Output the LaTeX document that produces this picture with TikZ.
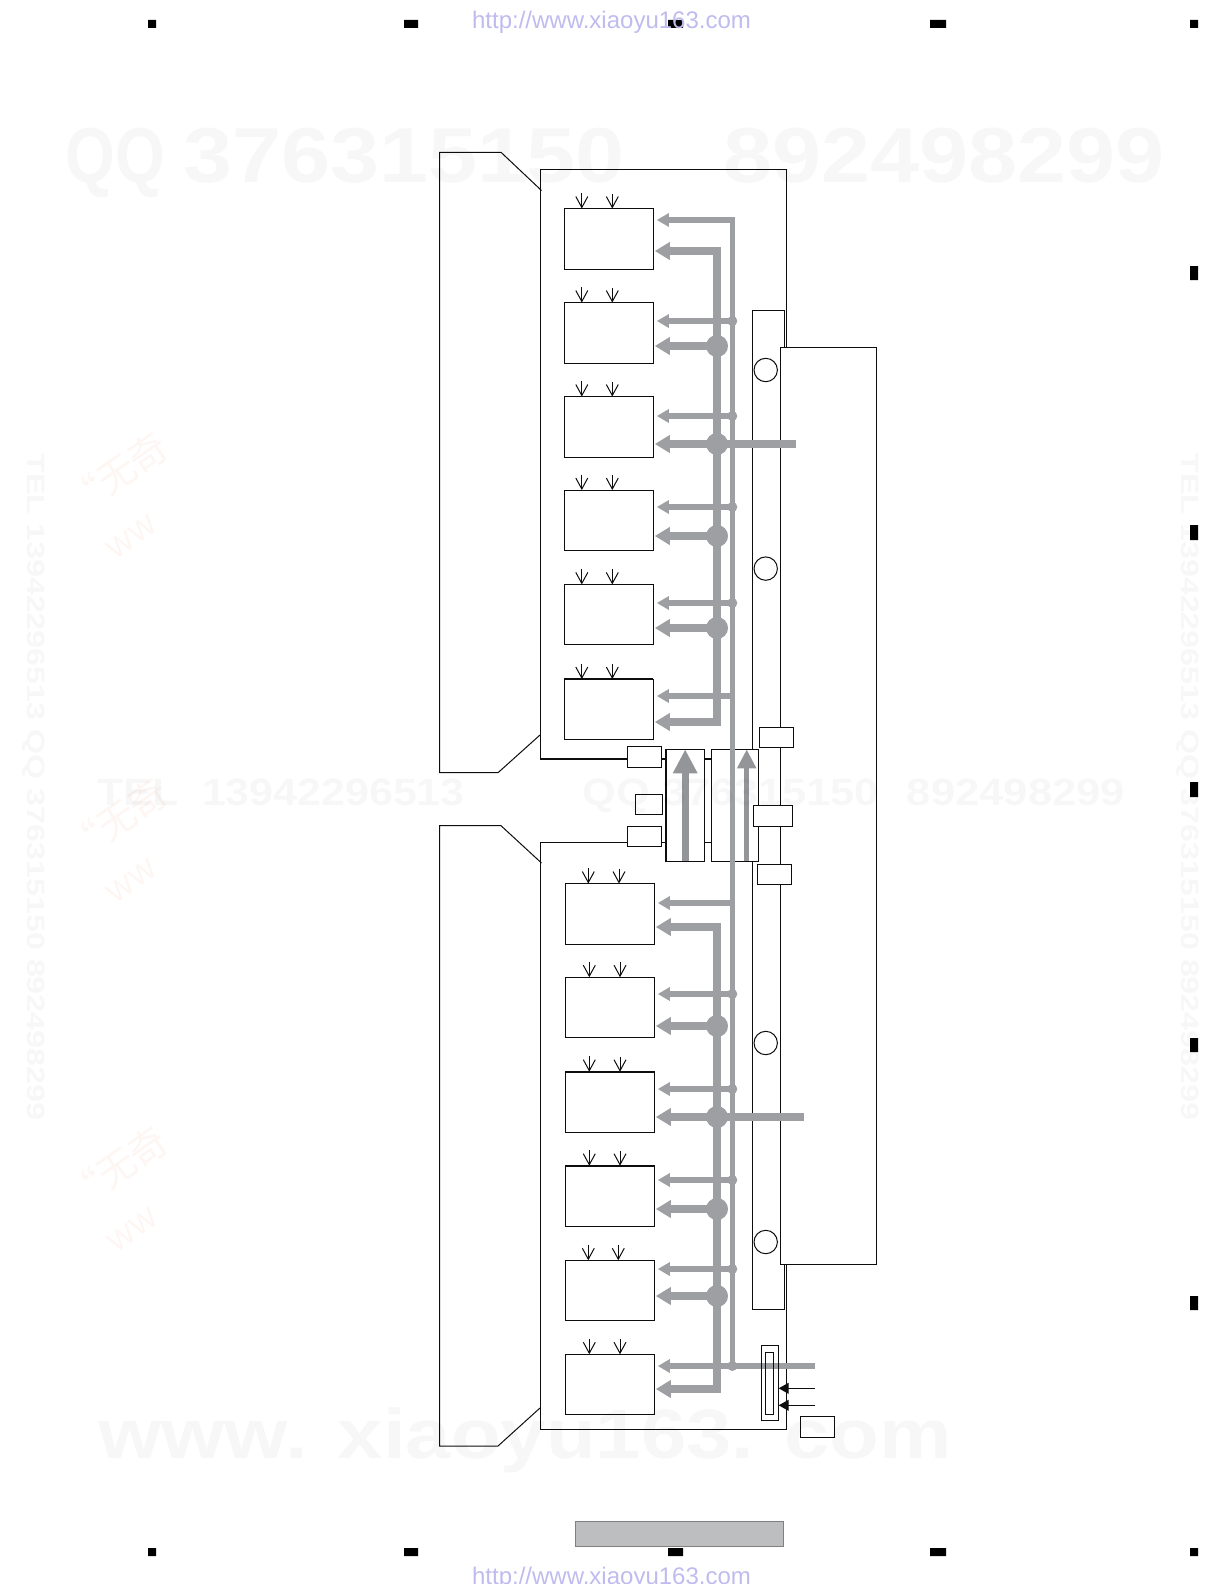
\documentclass[tikz,border=0pt]{standalone}
\usepackage{fontspec}
\setmainfont{Liberation Sans}
\newfontfamily\cjk{Noto Sans CJK SC}
\usetikzlibrary{arrows.meta}
\definecolor{busgray}{HTML}{9D9FA2}
\definecolor{headgray}{HTML}{939598}
\definecolor{barfill}{HTML}{BCBEC0}
\definecolor{stampred}{HTML}{D75F2D}
\definecolor{urlblue}{HTML}{BFBBEE}
\tikzset{
	boardline/.style={black!95, line width=1pt},
	heavyline/.style={black!95, line width=1.8pt},
	plainbox/.style={draw=black!95, fill=white, line width=1pt, rectangle, inner sep=0pt, outer sep=0pt},
	blockbox/.style={plainbox, minimum width=89pt, minimum height=60.5pt},
	tagbox/.style={plainbox, minimum width=34.4pt, minimum height=20.6pt},
	portcircle/.style={draw=black!95, fill=white, line width=1pt, circle, inner sep=0pt, minimum size=23.4pt},
	sigarrow/.style={black!95, line width=1pt, -{Straight Barb[length=11pt,width=12pt]}},
	thinbus/.style={busgray, line width=5.5pt, shorten >=3.5pt, -{Triangle[length=12pt,width=13pt]}},
	thickbus/.style={busgray, line width=7.5pt, shorten >=1.5pt, -{Triangle[length=15pt,width=17pt]}},
	thinplain/.style={busgray, line width=5.5pt},
	thickplain/.style={busgray, line width=7.5pt},
	inarrow/.style={black!95, line width=1pt, -{Triangle[length=10pt,width=11pt]}},
	wmtext/.style={black, opacity=0.03, inner sep=0pt, anchor=base},
	stamptext/.style={stampred, opacity=0.06, rotate=35, inner sep=0pt},
	urltext/.style={urlblue, font=\fontsize{24}{24}\selectfont, inner sep=0pt, anchor=base},
}
\newcommand{\sigpair}[3]{
	\draw [sigarrow] ([xshift=#2pt,yshift=15.5pt]#1.north) -- ([xshift=#2pt]#1.north);
	\draw [sigarrow] ([xshift=#3pt,yshift=15pt]#1.north) -- ([xshift=#3pt]#1.north);
}
\begin{document}
\begin{tikzpicture}[x=1pt,y=-1pt]
	\useasboundingbox (0,0) rectangle (1224,1584);
	%
	% page marks and links
	\fill [black]
	(148,20) rectangle (156,28) (404,20) rectangle (418,28) (668,20) rectangle (683,28) (930,20) rectangle (946,28) (1190,20) rectangle (1198,28)
	(148,1548) rectangle (156,1556) (404,1548) rectangle (418,1556) (668,1548) rectangle (683,1556) (930,1548) rectangle (946,1556) (1190,1548) rectangle (1198,1556)
	(1190,266) rectangle (1198,280) (1190,525) rectangle (1198,540) (1190,782) rectangle (1198,797) (1190,1038) rectangle (1198,1052) (1190,1296) rectangle (1198,1310);
	\node [urltext] (urltop) at (611.5,29) {http://www.xiaoyu163.com};
	\node [urltext] (urlbottom) at (611.5,1584.5) {http://www.xiaoyu163.com};
	\node [draw=black!50, fill=barfill, line width=1pt, inner sep=0pt, minimum width=208pt, minimum height=24.7pt] (titlebar) at (679,1534.3) {};
	%
	% the two boards and their brackets
	\draw [boardline] (786.3,347) -- (786.3,169.3) -- (540.3,169.3) -- (540.3,758.7);
	\draw [heavyline] (540.3,758.7) -- (711.3,758.7);
	\draw [boardline] (711.3,842.3) -- (540.3,842.3) -- (540.3,1429.3) -- (786.7,1429.3) -- (786.7,1264);
	\draw [boardline] (541.5,190.5) -- (501,152.3) -- (439.7,152.3) -- (439.7,772.7) -- (498,772.7) -- (540,735);
	\draw [boardline] (541.5,863) -- (501,825.7) -- (439.7,825.7) -- (439.7,1446) -- (498,1446) -- (540,1408);
	%
	\node [plainbox, minimum width=32pt, minimum height=999.3pt] (longpanel) at (768.3,809.7) {};
	\node [portcircle] (porta) at (765.7,370) {};
	\node [portcircle] (portb) at (765.7,568.6) {};
	\node [portcircle] (portc) at (765.7,1043) {};
	\node [portcircle] (portd) at (765.7,1242) {};
	\node [plainbox, minimum width=96.2pt, minimum height=917.3pt] (bigpanel) at (828.4,805.7) {};
	%
	\node [plainbox, minimum width=39pt, minimum height=112pt] (boxa) at (685.2,805.3) {};
	\draw [heavyline] (boxa.north west) -- (boxa.south west);
	\node [plainbox, minimum width=47.4pt, minimum height=112pt] (boxb) at (735,805.3) {};
	%
	% upper blocks
	\node [blockbox] (ublocka) at (608.8,238.8) {};
	\node [blockbox] (ublockb) at (608.8,332.8) {};
	\node [blockbox] (ublockc) at (608.8,426.8) {};
	\node [blockbox] (ublockd) at (608.8,520.3) {};
	\node [blockbox] (ublocke) at (608.8,614.7) {};
	\node [blockbox] (ublockf) at (608.8,709.3) {};
	\draw [heavyline] (ublockf.north west) -- (ublockf.north east);
	\sigpair{ublocka}{-27}{3.5} \sigpair{ublockb}{-27}{3.5} \sigpair{ublockc}{-27}{3.5}
	\sigpair{ublockd}{-27}{3.5} \sigpair{ublocke}{-27}{3.5} \sigpair{ublockf}{-27}{3.5}
	%
	% lower blocks
	\node [blockbox] (lblocka) at (609.8,913.8) {};
	\node [blockbox] (lblockb) at (609.8,1007.5) {};
	\node [blockbox] (lblockc) at (609.8,1102) {};
	\node [blockbox] (lblockd) at (609.8,1196) {};
	\node [blockbox] (lblocke) at (609.8,1290.5) {};
	\node [blockbox] (lblockf) at (609.8,1384.5) {};
	\draw [heavyline] (lblockc.north west) -- (lblockc.north east);
	\draw [heavyline] (lblockd.north west) -- (lblockd.north east);
	\sigpair{lblocka}{-21.5}{9.2} \sigpair{lblockb}{-20.5}{10.2} \sigpair{lblockc}{-20.5}{10.2}
	\sigpair{lblockd}{-20.5}{10.2} \sigpair{lblocke}{-21.5}{8.5} \sigpair{lblockf}{-20.5}{10.2}
	%
	% junctions on the two buses
	\coordinate (usa) at (732.3,220);  \coordinate (uta) at (717,251);
	\coordinate (usb) at (732.3,321);  \coordinate (utb) at (717,346);
	\coordinate (usc) at (732.3,416);  \coordinate (utc) at (717,444);
	\coordinate (usd) at (732.3,507);  \coordinate (utd) at (717,536);
	\coordinate (use) at (732.3,603);  \coordinate (ute) at (717,628);
	\coordinate (usf) at (732.3,696);  \coordinate (utf) at (717,722);
	\coordinate (lsa) at (732.3,903);  \coordinate (lta) at (717,927);
	\coordinate (lsb) at (732.3,994);  \coordinate (ltb) at (717,1026);
	\coordinate (lsc) at (732.3,1089); \coordinate (ltc) at (717,1117);
	\coordinate (lsd) at (732.3,1180); \coordinate (ltd) at (717,1209);
	\coordinate (lse) at (732.3,1269); \coordinate (lte) at (717,1296);
	\coordinate (lsf) at (732.3,1366); \coordinate (ltf) at (717,1389);
	\coordinate (uout) at (796,444);
	\coordinate (lout) at (804,1117);
	\coordinate (sout) at (815,1366);
	%
	\draw [thinplain] (usb) -- (lsf);
	\draw [thickplain] (utb) -- (ute);
	\draw [thickplain] (ltb) -- (lte);
	\draw [thickplain] (utc) -- (uout);
	\draw [thickplain] (ltc) -- (lout);
	\draw [thinplain] (lsf) -- (sout);
	%
	\draw [thinbus] (usb) -- (usa) -- (ublocka.east |- usa);
	\draw [thinbus] (usb) -- (ublockb.east |- usb);
	\draw [thinbus] (usc) -- (ublockc.east |- usc);
	\draw [thinbus] (usd) -- (ublockd.east |- usd);
	\draw [thinbus] (use) -- (ublocke.east |- use);
	\draw [thinbus] (usf) -- (ublockf.east |- usf);
	\draw [thickbus] (utb) -- (uta) -- (ublocka.east |- uta);
	\draw [thickbus] (utb) -- (ublockb.east |- utb);
	\draw [thickbus] (utc) -- (ublockc.east |- utc);
	\draw [thickbus] (utd) -- (ublockd.east |- utd);
	\draw [thickbus] (ute) -- (ublocke.east |- ute);
	\draw [thickbus] (ute) -- (utf) -- (ublockf.east |- utf);
	%
	\draw [thinbus] (lsa) -- (lblocka.east |- lsa);
	\draw [thinbus] (lsb) -- (lblockb.east |- lsb);
	\draw [thinbus] (lsc) -- (lblockc.east |- lsc);
	\draw [thinbus] (lsd) -- (lblockd.east |- lsd);
	\draw [thinbus] (lse) -- (lblocke.east |- lse);
	\draw [thinbus] (lsf) -- (lblockf.east |- lsf);
	\draw [thickbus] (ltb) -- (lta) -- (lblocka.east |- lta);
	\draw [thickbus] (ltb) -- (lblockb.east |- ltb);
	\draw [thickbus] (ltc) -- (lblockc.east |- ltc);
	\draw [thickbus] (ltd) -- (lblockd.east |- ltd);
	\draw [thickbus] (lte) -- (lblocke.east |- lte);
	\draw [thickbus] (lte) -- (ltf) -- (lblockf.east |- ltf);
	%
	\fill [busgray]
	(utb) circle (11) (utc) circle (11) (utd) circle (11) (ute) circle (11)
	(ltb) circle (11) (ltc) circle (11) (ltd) circle (11) (lte) circle (11)
	(usb) circle (5) (usc) circle (5) (usd) circle (5) (use) circle (5)
	(lsb) circle (5) (lsc) circle (5) (lsd) circle (5) (lse) circle (5) (lsf) circle (5);
	%
	% the two upward arrows in the middle boxes
	\draw [headgray, line width=7pt, -{Triangle[length=24pt,width=23pt]}] (boxa.south) -- (boxa.north);
	\draw [headgray, line width=5pt, -{Triangle[length=19pt,width=18pt]}] ([xshift=11.7pt]boxb.south) -- ([xshift=11.7pt]boxb.north);
	%
	% small boxes
	\node [tagbox] (tagupper) at (644.5,757) {};
	\node [plainbox, minimum width=27.4pt, minimum height=20.4pt] (tagmid) at (649,804.5) {};
	\node [tagbox] (taglower) at (644.5,836.3) {};
	\node [tagbox] (tagrighta) at (776.5,737.5) {};
	\node [plainbox, minimum width=39pt, minimum height=21pt] (tagrightb) at (772.8,815.8) {};
	\node [tagbox] (tagrightc) at (774.5,874.5) {};
	\node [tagbox] (tagfoot) at (817.5,1426.8) {};
	%
	% connector at the foot of the lower board
	\node [plainbox, fill=none, minimum width=17.4pt, minimum height=75.4pt] (socket) at (770,1383) {};
	\node [plainbox, fill=none, minimum width=8.4pt, minimum height=62.4pt] (socketin) at (769.5,1383.5) {};
	\coordinate (ina) at (815,1388.3);
	\coordinate (inb) at (815,1405.3);
	\draw [inarrow] (ina) -- (socket.east |- ina);
	\draw [inarrow] (inb) -- (socket.east |- inb);
	%
	% faint marks laid over the drawing
	\node [wmtext, font=\bfseries\fontsize{78}{78}\selectfont, xscale=0.82] (wmtopq) at (115,182) {QQ};
	\node [wmtext, font=\bfseries\fontsize{78}{78}\selectfont, xscale=1.13] (wmtop) at (404,182) {376315150};
	\node [wmtext, font=\bfseries\fontsize{78}{78}\selectfont, xscale=1.13] (wmtopb) at (944,182) {892498299};
	\node [wmtext, font=\bfseries\fontsize{38}{38}\selectfont, xscale=1.13] (wmtel) at (281,805) {TEL\ \ 13942296513};
	\node [wmtext, font=\bfseries\fontsize{38}{38}\selectfont, xscale=1.14] (wmqq) at (731,805) {QQ 376315150};
	\node [wmtext, font=\bfseries\fontsize{38}{38}\selectfont, xscale=1.147] (wmqqb) at (1016,805) {892498299};
	\node [wmtext, font=\bfseries\fontsize{70}{70}\selectfont, xscale=1.163] (wmwww) at (525,1458) {www. xiaoyu163. com};
	\node [wmtext, anchor=center, font=\bfseries\fontsize{25}{25}\selectfont, rotate=-90, xscale=1.29] (wmleft) at (34,787) {TEL 13942296513 QQ 376315150 892498299};
	\node [wmtext, anchor=center, font=\bfseries\fontsize{25}{25}\selectfont, rotate=-90, xscale=1.29] (wmright) at (1188,787) {TEL 13942296513 QQ 376315150 892498299};
	%
	\node [stamptext, font=\cjk\fontsize{38}{38}\selectfont] (stampa) at (117,474) {“无奇};
	\node [stamptext, font=\fontsize{28}{28}\selectfont] (wwa) at (132,537) {WW};
	\node [stamptext, font=\cjk\fontsize{38}{38}\selectfont] (stampb) at (117,820) {“无奇};
	\node [stamptext, font=\fontsize{28}{28}\selectfont] (wwb) at (132,881) {WW};
	\node [stamptext, font=\cjk\fontsize{38}{38}\selectfont] (stampc) at (117,1168) {“无奇};
	\node [stamptext, font=\fontsize{28}{28}\selectfont] (wwc) at (133,1230) {WW};
\end{tikzpicture}
\end{document}
